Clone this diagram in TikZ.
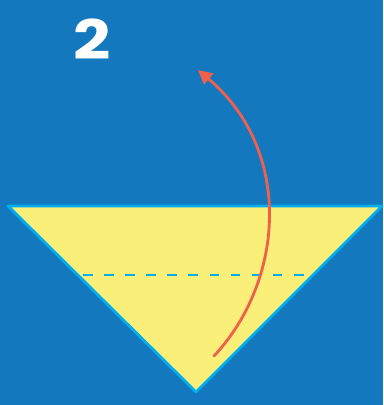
\documentclass[tikz,border=0pt]{standalone}
\usepackage{fontspec}
\setmainfont{Poppins}
\usetikzlibrary{arrows.meta}
\definecolor{fondo}{HTML}{1378BE}
\definecolor{carta}{HTML}{FAEF78}
\definecolor{bordo}{HTML}{00AEEF}
\definecolor{freccia}{HTML}{F0604A}
\begin{document}
\begin{tikzpicture}[
			x=0.02cm, y=-0.02cm,
			foglio/.style={fill=carta, draw=bordo, line width=1.6pt, line join=round},
			piega/.style={draw=bordo, line width=1.6pt, dash pattern=on 5.5pt off 6.5pt},
			giro/.style={draw=freccia, line width=1.6pt, line cap=round, -{Triangle[length=8pt,width=8pt]}},
			numero/.style={text=white, font=\fontsize{31}{31}\selectfont\bfseries, xscale=1.2},
			]
			
			%% ── sfondo ─────────────────────────────────────────
			\fill[fondo](0,0)rectangle(383,405);
			\useasboundingbox(0,0)rectangle(383,405);
			
			%% ── triangolo ──────────────────────────────────────
			\draw[foglio](8,206)--(382,206)--(196,392)--cycle;
			\draw[piega](83,275)--(306,275);
			
			%% ── freccia ────────────────────────────────────────
			\draw[giro](214,356)..controls(285,280)and(293,150)..(198,70);
			
			\node[numero](passo)at(92,39){2};
			
	\end{tikzpicture}
\end{document}
